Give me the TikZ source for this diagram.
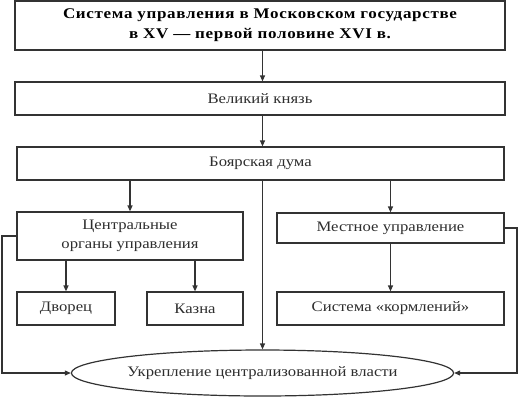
\documentclass[tikz,border=0pt]{standalone}
\usepackage{fontspec}
\setmainfont{Liberation Serif}[FakeStretch=1.15]
\usetikzlibrary{shapes.geometric,arrows.meta}
\definecolor{ln}{HTML}{333333}
\definecolor{tx}{HTML}{2E2E2E}
\begin{document}
\begin{tikzpicture}[x=1pt,y=-1pt,
  box/.style={draw=ln, line width=1.2pt, inner sep=0pt, rectangle, align=center,
    text=tx, font=\fontsize{14.5}{19}\selectfont},
  arr/.style={draw=ln, line width=1.2pt, -{Triangle[length=6pt,width=5pt]}}]
\useasboundingbox (0,0) rectangle (519,400);
\node[box, minimum width=490pt, minimum height=49pt, text=black,
  font=\fontsize{14.8}{20}\bfseries\addfontfeature{LetterSpace=4.5}] (t) at (260,25.5)
  {Система управления в Московском государстве\\в XV — первой половине XVI в.};
\node[box, minimum width=490pt, minimum height=33pt] (k) at (260,98.5) {Великий князь};
\node[box, minimum width=487pt, minimum height=33pt] (d) at (260.5,163.5) {Боярская дума};
\node[box, minimum width=226pt, minimum height=48pt] (c) at (130,236) {Центральные\\органы управления};
\node[box, minimum width=227pt, minimum height=30pt] (m) at (390.5,228) {Местное управление};
\node[box, minimum width=98pt, minimum height=33pt] (dv) at (66,308.5) {Дворец};
\node[box, minimum width=96pt, minimum height=33pt] (kz) at (195,308.5) {Казна};
\node[box, minimum width=227pt, minimum height=33pt] (s) at (390.5,308.5) {Система «кормлений»};
\node[box, ellipse, minimum width=361pt, minimum height=46pt] (e) at (262.5,373) {Укрепление централизованной власти};
\coordinate (L) at (2,0);
\coordinate (R) at (517,0);
\draw[arr] (e.north |- t.south) -- (e.north |- k.north);
\draw[arr] (e.north |- k.south) -- (e.north |- d.north);
\draw[arr] (c.north |- d.south) -- (c.north);
\draw[arr] (m.north |- d.south) -- (m.north);
\draw[arr] (e.north |- d.south) -- (e.north);
\draw[arr] (dv.north |- c.south) -- (dv.north);
\draw[arr] (kz.north |- c.south) -- (kz.north);
\draw[arr] (m.south) -- (s.north);
\draw[arr] (c.west) -- (c.west -| L) |- (e.west);
\draw[arr] (m.east) -- (m.east -| R) |- (e.east);
\end{tikzpicture}
\end{document}
